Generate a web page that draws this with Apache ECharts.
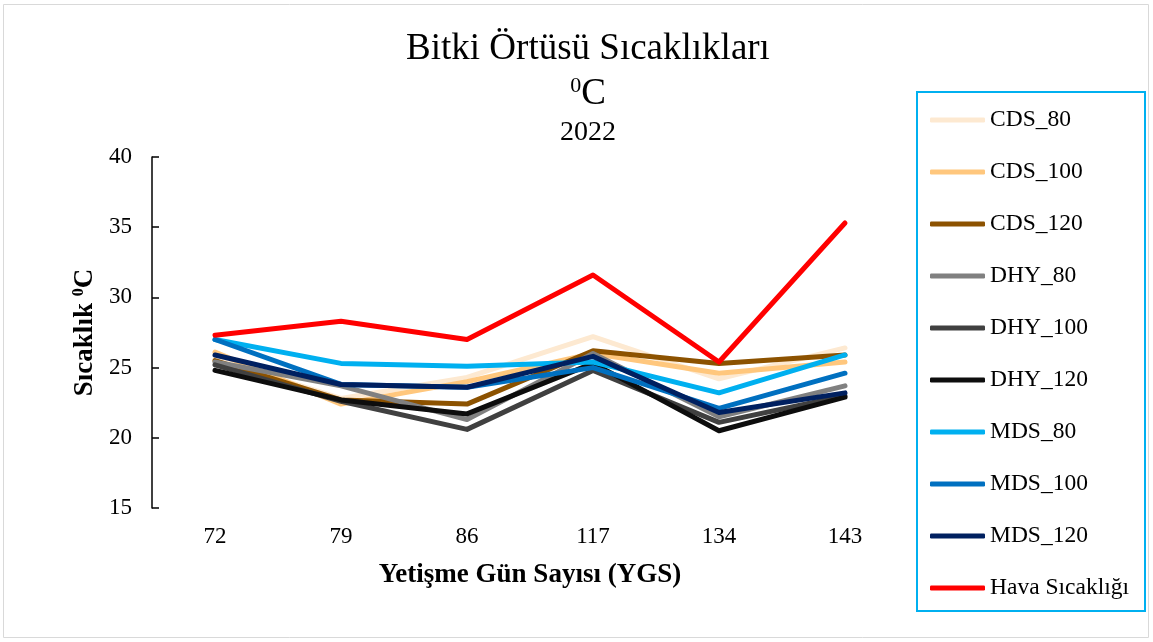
<!DOCTYPE html>
<html>
<head>
<meta charset="utf-8">
<script src="https://cdn.jsdelivr.net/npm/echarts@6/dist/echarts.min.js"></script>
<style>html,body{margin:0;padding:0;background:#fff}#c{width:1153px;height:642px}</style>
</head>
<body>
<div id="c"></div>
<script>
const categories = ['72', '79', '86', '117', '134', '143'];
const seriesNames = ['CDS_80', 'CDS_100', 'CDS_120', 'DHY_80', 'DHY_100', 'DHY_120', 'MDS_80', 'MDS_100', 'MDS_120', 'Hava Sıcaklığı'];
const CDS_80  = [25.6, 22.8, 24.3, 27.2, 24.2, 26.4];
const CDS_100 = [26.1, 22.4, 24.0, 26.0, 24.6, 25.4];
const CDS_120 = [25.5, 22.7, 22.4, 26.2, 25.3, 25.9];
const DHY_80  = [25.4, 23.7, 21.3, 26.0, 21.5, 23.7];
const DHY_100 = [25.2, 22.6, 20.6, 24.8, 21.1, 23.0];
const DHY_120 = [24.8, 22.7, 21.7, 25.3, 20.5, 22.9];
const MDS_80  = [27.0, 25.3, 25.1, 25.4, 23.2, 25.9];
const MDS_100 = [27.0, 23.8, 23.6, 25.0, 22.1, 24.6];
const MDS_120 = [25.9, 23.8, 23.6, 25.8, 21.8, 23.2];
const HAVA    = [27.3, 28.3, 27.0, 31.6, 25.4, 35.3];
const yTicks = { min: 15, max: 40, interval: 5 };

const seriesData = [CDS_80, CDS_100, CDS_120, DHY_80, DHY_100, DHY_120, MDS_80, MDS_100, MDS_120, HAVA];
const colors = ['#FDE9D1', '#FFC77D', '#8C5200', '#808080', '#404040', '#0D0D0D', '#00B0F0', '#0070C0', '#002060', '#FF0000'];
const FONT = '"Liberation Serif", "Times New Roman", serif';

const chart = echarts.init(document.getElementById('c'));
chart.setOption({
  animation: false,
  color: colors,
  textStyle: { fontFamily: FONT, color: '#000' },
  title: [
    { text: 'Bitki Örtüsü Sıcaklıkları', left: 583, top: 26, textAlign: 'center',
      textStyle: { fontFamily: FONT, fontSize: 37, fontWeight: 'normal', color: '#000' } },
    { text: '{s|0}{b|C}', left: 583, top: 70, textAlign: 'center',
      textStyle: { fontFamily: FONT, fontWeight: 'normal', color: '#000', rich: {
        s: { fontFamily: FONT, fontSize: 22, fontWeight: 'normal', padding: [0, 0, 16, 0], color: '#000' },
        b: { fontFamily: FONT, fontSize: 37, fontWeight: 'normal', color: '#000' } } } },
    { text: '2022', left: 583, top: 114, textAlign: 'center',
      textStyle: { fontFamily: FONT, fontSize: 28, fontWeight: 'normal', color: '#000' } }
  ],
  graphic: [
    { type: 'rect', shape: { x: 3.5, y: 4.5, width: 1145, height: 633 }, style: { fill: 'none', stroke: '#D9D9D9', lineWidth: 1 }, silent: true },
    { type: 'rect', shape: { x: 917, y: 92, width: 228, height: 519 }, style: { fill: 'none', stroke: '#00B0F0', lineWidth: 2 }, silent: true }
  ],
  legend: {
    data: seriesNames,
    orient: 'vertical',
    left: 925,
    top: 103,
    itemWidth: 55,
    itemHeight: 5,
    itemGap: 28,
    icon: 'roundRect',
    textStyle: { fontFamily: FONT, fontSize: 23.5, color: '#000', lineHeight: 24 }
  },
  grid: { left: 152, right: 245, top: 157, bottom: 134, containLabel: false },
  xAxis: {
    type: 'category',
    data: categories,
    boundaryGap: true,
    axisLine: { show: false },
    axisTick: { show: false },
    axisLabel: { fontFamily: FONT, fontSize: 23, color: '#000', margin: 17 },
    name: 'Yetişme Gün Sayısı (YGS)',
    nameLocation: 'middle',
    nameGap: 54,
    nameTextStyle: { fontFamily: FONT, fontSize: 27, fontWeight: 'bold', color: '#000' }
  },
  yAxis: {
    type: 'value',
    min: yTicks.min, max: yTicks.max, interval: yTicks.interval,
    splitLine: { show: false },
    axisLine: { show: true, lineStyle: { color: '#000', width: 1.5 } },
    axisTick: { show: true, inside: true, length: 7, lineStyle: { color: '#000', width: 1.5 } },
    axisLabel: { fontFamily: FONT, fontSize: 23, color: '#000', margin: 20 },
    name: '{n|Sıcaklık }{s|0}{n|C}',
    nameLocation: 'middle',
    nameGap: 52,
    nameTextStyle: { fontFamily: FONT, color: '#000', rich: {
      n: { fontFamily: FONT, fontSize: 27, fontWeight: 'bold', color: '#000' },
      s: { fontFamily: FONT, fontSize: 16, fontWeight: 'bold', padding: [0, 0, 11, 0], color: '#000' } } }
  },
  series: seriesNames.map((n, i) => ({
    name: n,
    type: 'line',
    data: seriesData[i],
    symbol: 'none',
    smooth: false,
    lineStyle: { width: 5, color: colors[i], cap: 'round', join: 'round' },
    itemStyle: { color: colors[i] },
    z: 2 + i
  }))
});
</script>
</body>
</html>
